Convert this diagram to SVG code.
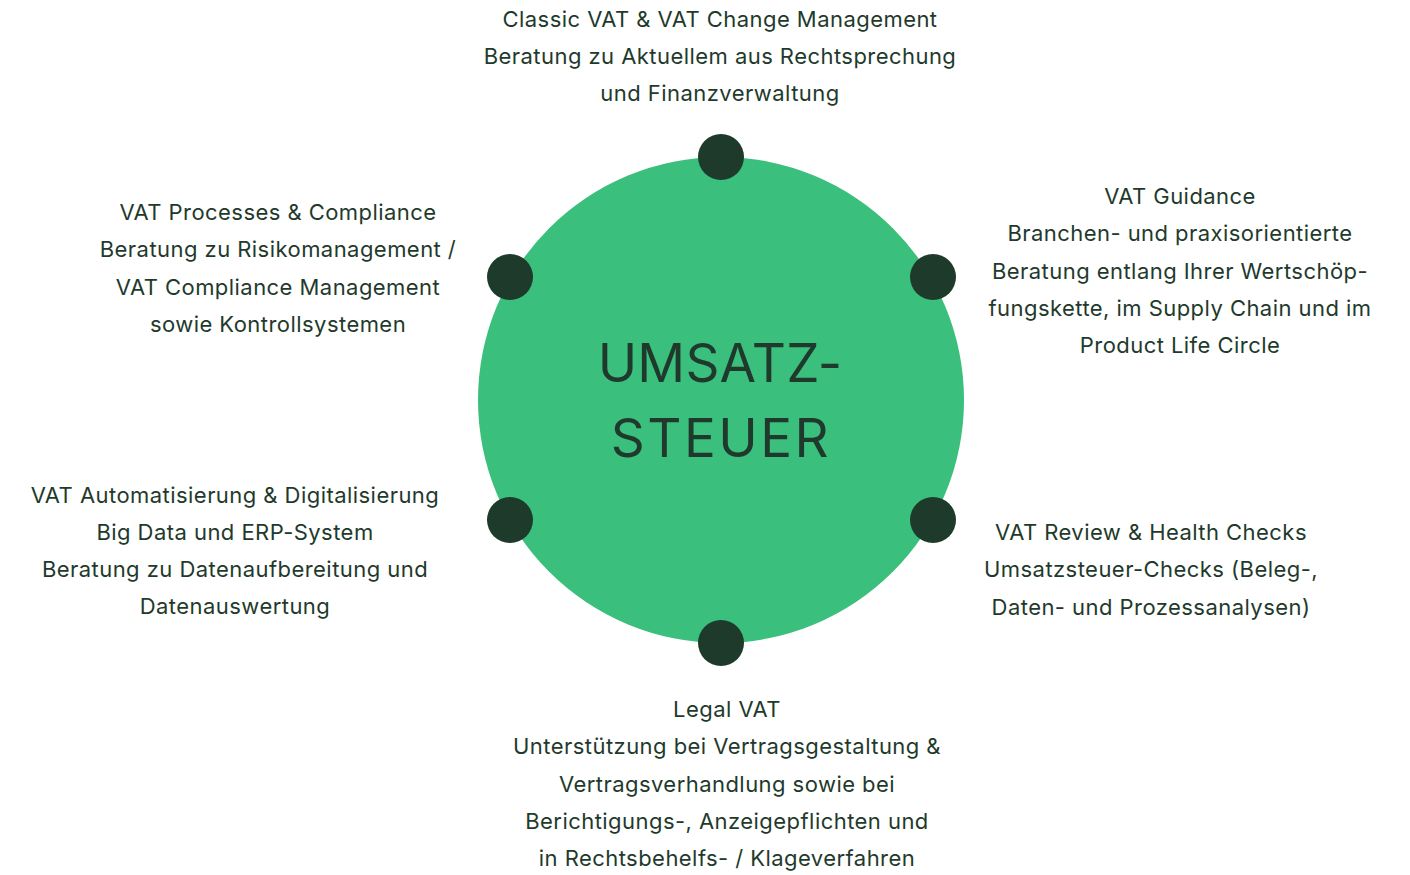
<svg xmlns="http://www.w3.org/2000/svg" width="1410" height="875" viewBox="0 0 1410 875">
<style>
.t{font-family:Inter,"Liberation Sans",sans-serif;font-size:22px;fill:#1f3a2c;text-anchor:middle;letter-spacing:0.45px}
.title{font-family:Inter,"Liberation Sans",sans-serif;font-size:53px;fill:#1f3a2c;text-anchor:middle}
.dot{fill:#1d3a2a}
</style>
<rect width="1410" height="875" fill="#ffffff"/>
<g id="hub">
<circle cx="721" cy="400" r="243" fill="#3abf7d"/>
<text class="title" x="720" y="382" letter-spacing="0.2">UMSATZ-</text>
<text class="title" x="721" y="457" letter-spacing="2.5">STEUER</text>
</g>
<g id="connectors">
<circle class="dot" cx="721" cy="157" r="23"/>
<circle class="dot" cx="933" cy="277" r="23"/>
<circle class="dot" cx="933" cy="520" r="23"/>
<circle class="dot" cx="721" cy="643" r="23"/>
<circle class="dot" cx="510" cy="520" r="23"/>
<circle class="dot" cx="510" cy="277" r="23"/>
</g>
<g id="node-classic">
<text class="t" x="720" y="27">Classic VAT &amp; VAT Change Management</text>
<text class="t" x="720" y="64">Beratung zu Aktuellem aus Rechtsprechung</text>
<text class="t" x="720" y="101">und Finanzverwaltung</text>
</g>
<g id="node-guidance">
<text class="t" x="1180" y="204">VAT Guidance</text>
<text class="t" x="1180" y="241">Branchen- und praxisorientierte</text>
<text class="t" x="1180" y="279">Beratung entlang Ihrer Wertschöp-</text>
<text class="t" x="1180" y="316">fungskette, im Supply Chain und im</text>
<text class="t" x="1180" y="353">Product Life Circle</text>
</g>
<g id="node-review">
<text class="t" x="1151" y="540">VAT Review &amp; Health Checks</text>
<text class="t" x="1151" y="577">Umsatzsteuer-Checks (Beleg-,</text>
<text class="t" x="1151" y="615">Daten- und Prozessanalysen)</text>
</g>
<g id="node-legal">
<text class="t" x="727" y="717">Legal VAT</text>
<text class="t" x="727" y="754">Unterstützung bei Vertragsgestaltung &amp;</text>
<text class="t" x="727" y="792">Vertragsverhandlung sowie bei</text>
<text class="t" x="727" y="829">Berichtigungs-, Anzeigepflichten und</text>
<text class="t" x="727" y="866">in Rechtsbehelfs- / Klageverfahren</text>
</g>
<g id="node-automation">
<text class="t" x="235" y="503">VAT Automatisierung &amp; Digitalisierung</text>
<text class="t" x="235" y="540">Big Data und ERP-System</text>
<text class="t" x="235" y="577">Beratung zu Datenaufbereitung und</text>
<text class="t" x="235" y="614">Datenauswertung</text>
</g>
<g id="node-processes">
<text class="t" x="278" y="220">VAT Processes &amp; Compliance</text>
<text class="t" x="278" y="257">Beratung zu Risikomanagement /</text>
<text class="t" x="278" y="295">VAT Compliance Management</text>
<text class="t" x="278" y="332">sowie Kontrollsystemen</text>
</g>
</svg>
